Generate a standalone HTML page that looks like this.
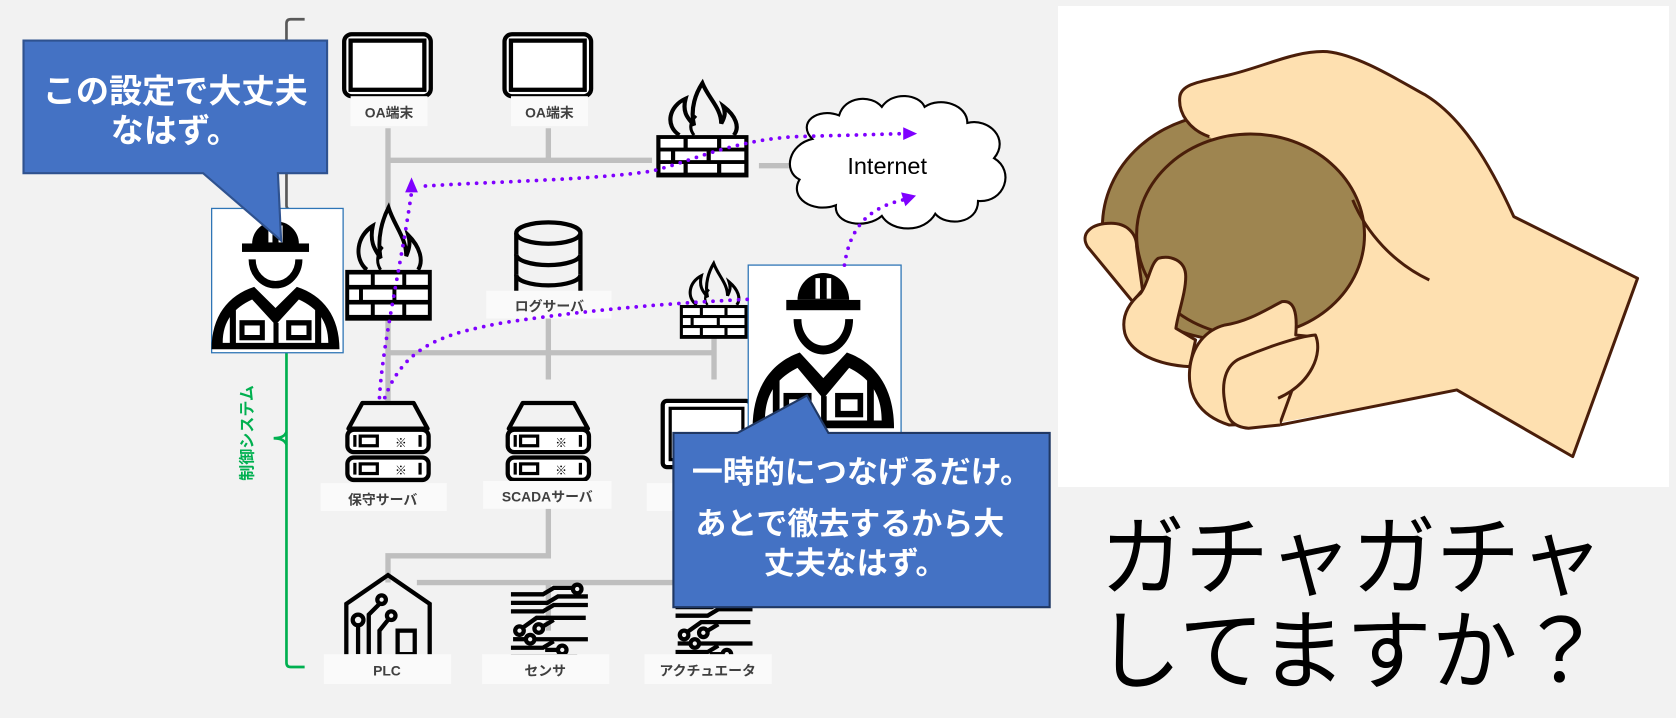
<!DOCTYPE html>
<html><head><meta charset="utf-8"><style>
html,body{margin:0;padding:0;background:#f2f2f2;}
svg{display:block;}
text{font-family:"Liberation Sans","Noto Sans CJK JP",sans-serif;}
</style></head><body>
<svg width="1676" height="718" viewBox="0 0 1676 718" xmlns="http://www.w3.org/2000/svg">
<defs>
<g id="monitor">
 <rect x="2" y="2" width="81" height="58" rx="7" fill="#fff" stroke="#000" stroke-width="4"/>
 <rect x="8" y="8" width="69" height="46" fill="#fff" stroke="#000" stroke-width="4"/>
 <path d="M28,60 Q32,66 38,66 L47,66 Q53,66 57,60" fill="none" stroke="#000" stroke-width="3"/>
</g>
<g id="firewall">
 <path d="M22,56 C8,46 12,26 28,18 C24,34 32,40 36,46 C32,28 38,12 44,2 C50,18 62,28 62,44 C66,36 66,32 64,26 C76,36 80,48 74,56" fill="none" stroke="#000" stroke-width="4"/>
 <path d="M36,56 C30,48 34,40 38,36" fill="none" stroke="#000" stroke-width="3"/>
 <rect x="0" y="56" width="88" height="44" fill="#000"/>
 <g fill="#fff">
  <rect x="4" y="60" width="22" height="9"/><rect x="30" y="60" width="28" height="9"/><rect x="62" y="60" width="22" height="9"/>
  <rect x="4" y="73" width="10" height="9"/><rect x="18" y="73" width="30" height="9"/><rect x="52" y="73" width="32" height="9"/>
  <rect x="4" y="86" width="22" height="9"/><rect x="30" y="86" width="28" height="9"/><rect x="62" y="86" width="22" height="9"/>
 </g>
</g>
<g id="server">
 <path d="M16,2 L64,2 L77,26 L3,26 Z" fill="#f2f2f2" stroke="#000" stroke-width="4" stroke-linejoin="round"/>
 <rect x="2" y="27" width="76" height="21" rx="6" fill="#fff" stroke="#000" stroke-width="4"/>
 <rect x="2" y="53" width="76" height="21" rx="6" fill="#fff" stroke="#000" stroke-width="4"/>
 <g fill="none" stroke="#000" stroke-width="3">
  <line x1="9" y1="32" x2="9" y2="43"/><rect x="14" y="33" width="16" height="9"/><line x1="70" y1="32" x2="70" y2="43"/>
  <line x1="9" y1="58" x2="9" y2="69"/><rect x="14" y="59" width="16" height="9"/><line x1="70" y1="58" x2="70" y2="69"/>
 </g>
 <text x="52" y="43" font-size="11" font-weight="bold" text-anchor="middle">※</text>
 <text x="52" y="69" font-size="11" font-weight="bold" text-anchor="middle">※</text>
</g>
<g id="worker">
 <path d="M42,23 A23,21 0 0 1 88,23 Z" fill="#000"/>
 <rect x="58" y="6" width="4" height="16" fill="#fff"/><rect x="68" y="6" width="4" height="16" fill="#fff"/>
 <rect x="32" y="23" width="66" height="8" fill="#000"/>
 <path d="M42,38 A23,24 0 0 0 88,38" fill="none" stroke="#000" stroke-width="7"/>
 <path d="M2,123 C2,92 18,72 44,64 L65,84 L86,64 C112,72 128,92 128,123 Z" fill="#000"/>
 <path d="M13,117 C13,96 24,84 42,76 L65,100 L88,76 C106,84 117,96 117,117 Z" fill="#fff"/>
 <rect x="20" y="86" width="6" height="34" fill="#000"/><rect x="104" y="86" width="6" height="34" fill="#000"/>
 <rect x="63" y="98" width="5" height="22" fill="#000"/>
 <rect x="32" y="98" width="20" height="14" fill="none" stroke="#000" stroke-width="5"/>
 <rect x="78" y="98" width="20" height="14" fill="none" stroke="#000" stroke-width="5"/>
</g>
<g id="circuit">
 <g fill="none" stroke="#000" stroke-width="4">
  <path d="M0,8 L30,8 L40,2 L58,2"/><circle cx="62" cy="3" r="4"/>
  <path d="M0,16 L34,16 L44,10 L72,10"/>
  <path d="M0,24 L30,24 L40,18 L72,18"/>
  <path d="M10,40 L24,30 L70,30"/><circle cx="8" cy="42" r="4"/>
  <circle cx="26" cy="40" r="4"/><path d="M30,38 L40,32"/>
  <path d="M14,50 L2,50"/><circle cx="18" cy="50" r="4"/>
  <path d="M22,50 L72,50"/><path d="M0,58 L30,58 L40,52"/>
  <path d="M32,60 L44,60"/><circle cx="48" cy="60" r="4"/>
  <path d="M0,66 L62,66"/>
 </g>
</g>
</defs>

<rect width="1676" height="718" fill="#f2f2f2"/>

<g transform="scale(1.0689)">
 <!-- gray bracket -->
 <path d="M285,18 L272,18 Q268,18 268,22 L268,192 Q268,196 272,196 L285,196" fill="none" stroke="#595959" stroke-width="2.5"/>
 <!-- gray network lines -->
 <g stroke="#bfbfbf" stroke-width="5" fill="none">
  <path d="M363,120 L363,195"/><path d="M363,150 L610,150"/><path d="M513,120 L513,150"/><path d="M710,155 L738,155"/>
  <path d="M363,300 L363,375"/><path d="M363,330 L668,330"/><path d="M513,298 L513,355"/><path d="M668,315 L668,355"/>
  <path d="M513,476 L513,520 L363,520 L363,545"/><path d="M390,545 L640,545"/><path d="M513,545 L513,590"/>
 </g>
 <!-- monitors -->
 <use href="#monitor" x="320" y="30"/>
 <use href="#monitor" x="470" y="30"/>
 <rect x="328" y="90" width="72" height="28" fill="#fafafa"/><text x="364" y="110" font-size="13" font-weight="bold" fill="#404040" text-anchor="middle">OA端末</text>
 <rect x="478" y="90" width="72" height="28" fill="#fafafa"/><text x="514" y="110" font-size="13" font-weight="bold" fill="#404040" text-anchor="middle">OA端末</text>
 <!-- firewalls -->
 <use href="#firewall" transform="translate(614,76) scale(0.98,0.9)"/>
 <use href="#firewall" transform="translate(323,192) scale(0.92,1.08)"/>
 <use href="#firewall" transform="translate(636,245) scale(0.72,0.72)"/>
 <!-- cloud -->
 <path d="M760,130 C745,115 765,100 785,108 C790,90 815,88 825,100 C835,85 860,88 865,100 C880,90 905,98 905,115 C925,110 945,130 930,148 C950,160 940,190 915,188 C915,210 885,212 875,200 C865,218 835,218 825,202 C810,215 780,210 782,192 C760,200 738,185 748,168 C732,160 738,135 760,130 Z" fill="#fff" stroke="#000" stroke-width="2"/>
 <text x="830" y="163" font-size="22" text-anchor="middle" fill="#000">Internet</text>
 <!-- DB -->
 <g fill="#f2f2f2" stroke="#000" stroke-width="4">
  <path d="M483,218 L483,275 A30,10 0 0 0 543,275 L543,218"/>
  <path d="M483,238 A30,10 0 0 0 543,238"/><path d="M483,257 A30,10 0 0 0 543,257"/>
  <ellipse cx="513" cy="218" rx="30" ry="10"/>
 </g>
 <rect x="455" y="272" width="117" height="26" fill="#fafafa"/><text x="514" y="291" font-size="13" font-weight="bold" fill="#404040" text-anchor="middle">ログサーバ</text>
 <!-- servers -->
 <use href="#server" x="323" y="375"/>
 <use href="#server" x="473" y="375"/>
 <rect x="620" y="375" width="82" height="62" rx="4" fill="#fff" stroke="#000" stroke-width="4"/>
 <rect x="627" y="382" width="68" height="48" fill="#fff" stroke="#000" stroke-width="3"/>
 <rect x="300" y="452" width="118" height="26" fill="#fafafa"/><text x="358" y="472" font-size="13" font-weight="bold" fill="#404040" text-anchor="middle">保守サーバ</text>
 <rect x="452" y="450" width="120" height="26" fill="#fafafa"/><text x="512" y="469" font-size="13" font-weight="bold" fill="#404040" text-anchor="middle">SCADAサーバ</text>
 <rect x="605" y="452" width="30" height="26" fill="#fafafa"/>
 <!-- PLC -->
 <g fill="none" stroke="#000" stroke-width="4">
  <path d="M324,615 L324,565 L363,538 L402,565 L402,615"/>
  <path d="M335,612 L335,585"/><circle cx="335" cy="580" r="5"/>
  <path d="M345,612 L345,575 L355,565"/><circle cx="357" cy="561" r="4"/>
  <path d="M355,612 L355,590 L363,580"/><circle cx="366" cy="576" r="4"/>
  <rect x="372" y="590" width="16" height="22"/>
 </g>
 <use href="#circuit" x="478" y="548"/>
 <use href="#circuit" x="632" y="552"/>
 <rect x="303" y="612" width="119" height="28" fill="#fafafa"/><text x="362" y="632" font-size="13" font-weight="bold" fill="#404040" text-anchor="middle">PLC</text>
 <rect x="451" y="612" width="119" height="28" fill="#fafafa"/><text x="510" y="632" font-size="13" font-weight="bold" fill="#404040" text-anchor="middle">センサ</text>
 <rect x="603" y="612" width="119" height="28" fill="#fafafa"/><text x="662" y="632" font-size="13" font-weight="bold" fill="#404040" text-anchor="middle">アクチュエータ</text>
 <!-- green brace -->
 <path d="M268,330 L268,620 Q268,624 272,624 L285,624" fill="none" stroke="#00b050" stroke-width="2.5"/>
 <path d="M268,404 Q266,410 256,410 Q266,410 268,416" fill="none" stroke="#00b050" stroke-width="2.5"/>
 <text transform="translate(236,405) rotate(-90)" font-size="15" font-weight="bold" fill="#00b050" text-anchor="middle">制御システム</text>
 <!-- worker 1 -->
 <rect x="198" y="195" width="123" height="135" fill="#fff" stroke="#2e75b6" stroke-width="1.2"/>
 <use href="#worker" transform="translate(196,205) scale(0.95,0.99)"/>
 <!-- worker 2 -->
 <rect x="700" y="248" width="143" height="222" fill="#fff" stroke="#2e75b6" stroke-width="1.2"/>
 <use href="#worker" transform="translate(702,253) scale(1.05,1.2)"/>
 <!-- dotted lines -->
 <g fill="none" stroke="#7f00ff" stroke-width="3.5" stroke-dasharray="0 8" stroke-linecap="round">
  <path d="M355,372 C358,320 375,250 385,180"/>
  <path d="M398,174 C460,170 560,168 610,160 C650,150 680,133 740,128 L845,125"/>
  <path d="M360,372 C380,320 420,312 470,302 C550,290 620,284 700,280"/>
  <path d="M790,248 C795,215 810,195 845,187"/>
 </g>
 <path d="M379,180 L385,166 L391,180 Z" fill="#7f00ff"/>
 <path d="M845,119 L858,125 L845,131 Z" fill="#7f00ff"/>
 <path d="M843,180 L857,183 L847,193 Z" fill="#7f00ff"/>
 <!-- callout 1 -->
 <path d="M22,38 L306,38 L306,162 L260,162 L263,225 L190,162 L22,162 Z" fill="#4472c4" stroke="#2f528f" stroke-width="2"/>
 <text x="164" y="96" font-size="31" fill="#fff" text-anchor="middle" font-weight="bold">この設定で大丈夫</text>
 <text x="164" y="133" font-size="31" fill="#fff" text-anchor="middle" font-weight="bold">なはず。</text>
 <!-- callout 2 -->
 <path d="M630,405 L690,405 L755,370 L775,405 L982,405 L982,568 L630,568 Z" fill="#4472c4" stroke="#203864" stroke-width="2"/>
 <text x="806" y="452" font-size="29" fill="#fff" text-anchor="middle" font-weight="bold">一時的につなげるだけ。</text>
 <text x="795" y="500" font-size="29" fill="#fff" text-anchor="middle" font-weight="bold">あとで徹去するから大</text>
 <text x="800" y="537" font-size="29" fill="#fff" text-anchor="middle" font-weight="bold">丈夫なはず。</text>
 <!-- big text -->
 <text x="1030" y="550" font-size="82" fill="#000" textLength="470" lengthAdjust="spacingAndGlyphs">ガチャガチャ</text>
 <text x="1025" y="638" font-size="82" fill="#000" textLength="475" lengthAdjust="spacingAndGlyphs">してますか？</text>
</g>

<!-- white panel + hand (real coords) -->
<rect x="1058" y="6" width="611" height="481" fill="#fff"/>
<g transform="translate(1060,0) scale(0.3929,0.3333)" stroke="#4a1e0a" stroke-width="3" stroke-linejoin="round">
 <ellipse cx="430" cy="680" rx="322" ry="340" fill="#9e8550" vector-effect="non-scaling-stroke"/>
 <path d="M305,290 C310,250 360,245 430,225 C520,200 600,150 680,155 C760,165 860,240 930,285 C1020,350 1090,480 1155,650 L1470,835 L1305,1370 L1010,1170 L480,1285 L420,1000 L700,700 L380,410 C330,390 300,340 305,290 Z" fill="#fee0b0" stroke="none"/>
 <path d="M380,410 C330,390 300,340 305,290 C310,250 360,245 430,225 C520,200 600,150 680,155 C760,165 860,240 930,285 C1020,350 1090,480 1155,650 L1470,835 L1305,1370 L1010,1170 L560,1275" fill="none" vector-effect="non-scaling-stroke"/>
 <ellipse cx="485" cy="705" rx="290" ry="303" fill="#9e8550" vector-effect="non-scaling-stroke"/>
 <path d="M745,600 C780,700 850,790 940,840" fill="none" vector-effect="non-scaling-stroke"/>
 <path d="M185,905 L70,740 C50,700 80,670 130,670 C170,670 195,700 195,740 L210,870 Z" fill="#fee0b0" vector-effect="non-scaling-stroke"/>
 <path d="M330,1100 C250,1095 180,1060 165,1000 C155,950 175,910 205,880 C225,850 230,790 250,775 C280,765 320,780 320,830 C320,880 300,940 295,985 L345,1020 Z" fill="#fee0b0" vector-effect="non-scaling-stroke"/>
 <path d="M430,1275 C350,1245 325,1180 330,1110 C335,1040 370,990 420,975 C480,965 530,925 565,905 C595,900 605,935 600,1005 L640,1010 L560,1270 Z" fill="#fee0b0" vector-effect="non-scaling-stroke"/>
 <path d="M555,1195 C640,1150 670,1060 650,1005 C600,1010 510,1050 460,1075 C420,1095 410,1150 420,1210 C425,1260 440,1280 480,1285 L560,1275" fill="#fee0b0" vector-effect="non-scaling-stroke"/>
</g>
</svg>
</body></html>
